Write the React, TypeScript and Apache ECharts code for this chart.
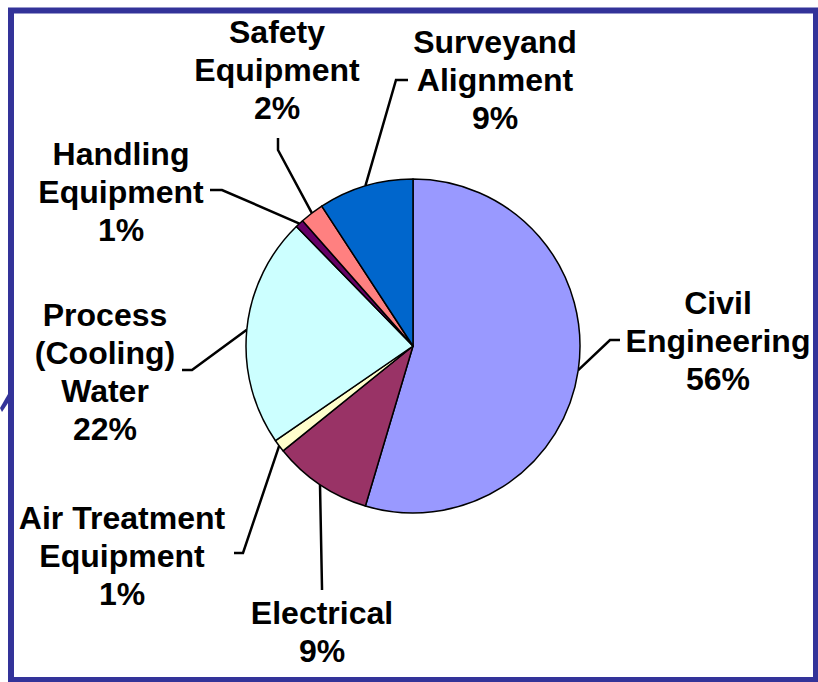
import React, { useEffect, useRef } from "react";
import * as echarts from "echarts";

// ---- data ----
const categories = [
  "Civil Engineering",
  "Electrical",
  "Air Treatment Equipment",
  "Process (Cooling) Water",
  "Handling Equipment",
  "Safety Equipment",
  "Surveyand Alignment",
];
const labelNames = [
  ["Civil", "Engineering"],
  ["Electrical"],
  ["Air Treatment", "Equipment"],
  ["Process", "(Cooling)", "Water"],
  ["Handling", "Equipment"],
  ["Safety", "Equipment"],
  ["Surveyand", "Alignment"],
];
const percentLabels = ["56%", "9%", "1%", "22%", "1%", "2%", "9%"];
const sliceShares = [54.6, 9.6, 1.2, 22.3, 0.8, 2.3, 9.2];
const sliceColors = ["#9999FF", "#993366", "#FFFFCC", "#CCFFFF", "#660066", "#FF8080", "#0066CC"];

// ---- label layout (positions only) ----
const labelCenters: [number, number][] = [
  [718, 341],
  [322, 632],
  [122, 556],
  [105, 372],
  [121, 192],
  [277, 70],
  [495, 80],
];
const leaderElbows: [number, number][] = [
  [610, 340],
  [322, 588],
  [243, 553],
  [192, 370],
  [222, 190],
  [278, 150],
  [396, 80],
];
const leaderEnds: [number, number][] = [
  [620, 340],
  [322, 590],
  [234, 553],
  [182, 370],
  [210, 190],
  [278, 138],
  [408, 80],
];

export default function App() {
  const ref = useRef<HTMLDivElement>(null);
  useEffect(() => {
    if (!ref.current) return;
    const chart = echarts.init(ref.current, null, { renderer: "svg" });
    const font = "'Liberation Sans', Arial, Helvetica, sans-serif";
    chart.setOption({
      animation: false,
      backgroundColor: "#FFFFFF",
      graphic: [
        {
          type: "rect",
          shape: { x: 11, y: 10.5, width: 805, height: 669.5 },
          style: { fill: "none", stroke: "#333399", lineWidth: 6 },
          silent: true,
        },
        {
          type: "polygon",
          shape: { points: [[0, 408], [8, 394], [8, 403], [2, 412]] },
          style: { fill: "#333399" },
          silent: true,
        },
      ],
      series: [
        {
          type: "pie",
          center: [413, 346],
          radius: 167,
          startAngle: 90,
          clockwise: true,
          avoidLabelOverlap: false,
          itemStyle: { borderColor: "#000000", borderWidth: 1.5 },
          label: {
            show: true,
            position: "outside",
            color: "#000000",
            fontFamily: font,
            fontWeight: "bold",
            fontSize: 32,
            lineHeight: 38,
            align: "center",
            formatter: (p: any) =>
              [...labelNames[p.dataIndex], percentLabels[p.dataIndex]].join("\n"),
          },
          labelLine: {
            show: true,
            length: 20,
            length2: 10,
            smooth: false,
            lineStyle: { color: "#000000", width: 2.5 },
          },
          labelLayout: (params: any) => {
            const i = params.dataIndex;
            const start = params.labelLinePoints ? params.labelLinePoints[0] : leaderElbows[i];
            return {
              x: labelCenters[i][0],
              y: labelCenters[i][1],
              align: "center",
              verticalAlign: "middle",
              labelLinePoints: [start, leaderElbows[i], leaderEnds[i]],
            };
          },
          emphasis: { disabled: true },
          data: categories.map((name, i) => ({
            name,
            value: sliceShares[i],
            itemStyle: { color: sliceColors[i] },
          })),
        },
      ],
    });
    return () => chart.dispose();
  }, []);
  return (
    <div
      ref={ref}
      style={{ position: "absolute", left: 0, top: 0, width: 818, height: 682 }}
    />
  );
}
